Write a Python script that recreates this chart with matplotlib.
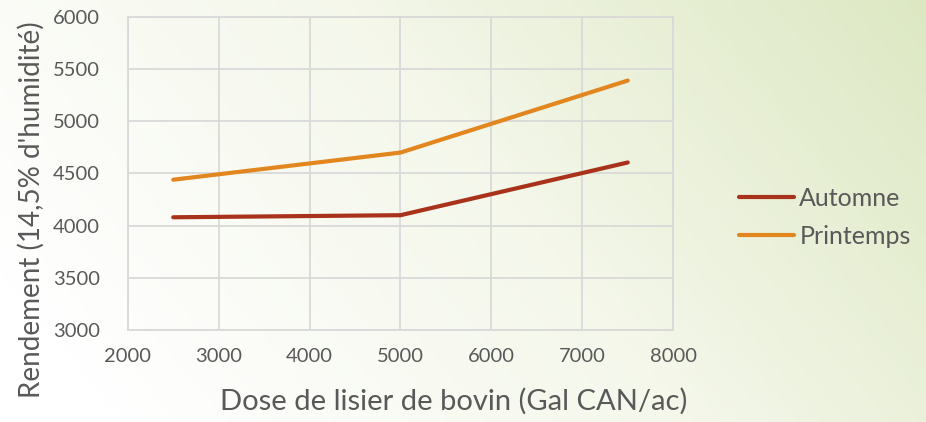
import numpy as np
import matplotlib
matplotlib.use("Agg")
import matplotlib.pyplot as plt
from matplotlib.colors import LinearSegmentedColormap

plt.rcParams['font.family'] = ['Lato', 'DejaVu Sans']

doses = [2500, 5000, 7500]
automne = [4080, 4100, 4605]
printemps = [4440, 4700, 5390]
series_names = ["Automne", "Printemps"]

text_color = "#595959"

fig = plt.figure(figsize=(9.26, 4.22), dpi=100)

# fond dégradé blanc -> vert pâle
bg = fig.add_axes([0, 0, 1, 1], zorder=-10)
gx, gy = np.meshgrid(np.linspace(0, 1, 200), np.linspace(0, 1, 100))
grad = np.clip(0.8 * gx + 0.3 * gy - 0.1, 0, 1)
cmap = LinearSegmentedColormap.from_list("bg", ["#ffffff", "#f4f7ea", "#dde8c3"])
bg.imshow(grad, cmap=cmap, aspect="auto", origin="lower", extent=[0, 1, 0, 1])
bg.axis("off")

ax = fig.add_axes([0.138, 0.218, 0.589, 0.742])
ax.patch.set_alpha(0)
ax.plot(doses, automne, color="#A8321A", lw=3, label=series_names[0], solid_capstyle="round")
ax.plot(doses, printemps, color="#E2861F", lw=3, label=series_names[1], solid_capstyle="round")

ax.set_xlim(2000, 8000)
ax.set_ylim(3000, 6000)
ax.set_xticks(range(2000, 8001, 1000))
ax.set_yticks(range(3000, 6001, 500))
ax.grid(True, color="#d9d9d9", lw=1.3)
for s in ax.spines.values():
    s.set_color("#d9d9d9")
    s.set_linewidth(1.3)
ax.tick_params(length=0, labelsize=14.5, colors=text_color)
ax.tick_params(axis="y", pad=20)
ax.tick_params(axis="x", pad=13)

ax.set_xlabel("Dose de lisier de bovin (Gal CAN/ac)", fontsize=21, color=text_color)
ax.set_ylabel("Rendement (14,5% d'humidité)", fontsize=20, color=text_color)
ax.xaxis.set_label_coords(0.598, -0.185)
ax.yaxis.set_label_coords(-0.152, 0.385)

leg = ax.legend(loc="center left", bbox_to_anchor=(1.08, 0.36), frameon=False,
                fontsize=18, handlelength=2.2, handletextpad=0.2, labelspacing=0.6)
for t in leg.get_texts():
    t.set_color(text_color)

fig.savefig("out.png", dpi=100)
